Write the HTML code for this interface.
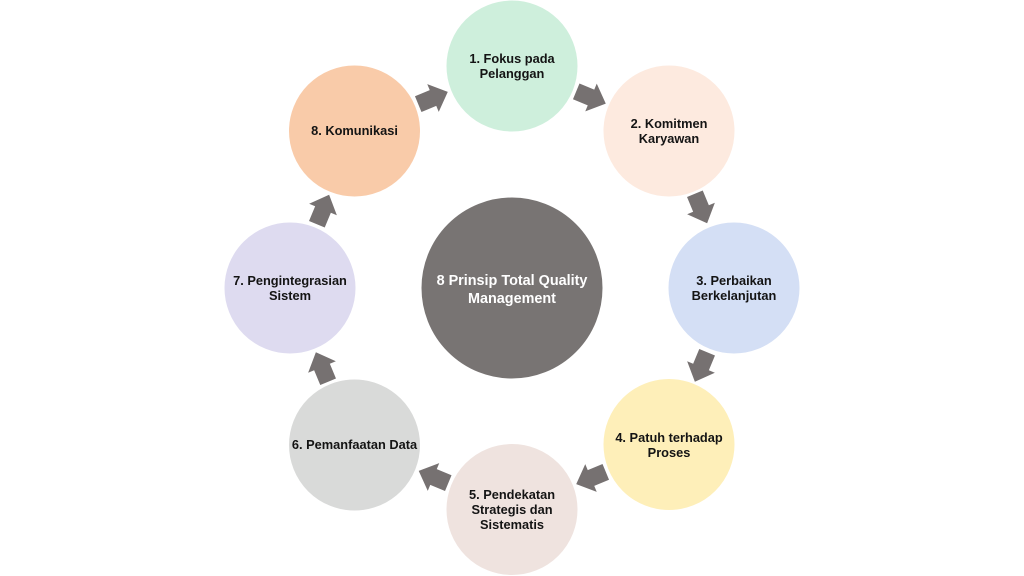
<!DOCTYPE html>
<html>
<head>
<meta charset="utf-8">
<style>
  html, body { margin:0; padding:0; background:#ffffff; }
  body { width:1024px; height:576px; overflow:hidden; }
  svg { display:block; }
  text { font-family: "Liberation Sans", Arial, sans-serif; font-weight:bold; }
</style>
</head>
<body>
<svg width="1024" height="576" viewBox="0 0 1024 576" xmlns="http://www.w3.org/2000/svg">
  <defs>
    <polygon id="arr" points="-16,-8.5 0,-8.5 0,-15 16,0 0,15 0,8.5 -16,8.5" fill="#767171"/>
  </defs>

  <!-- center -->
  <circle cx="512" cy="288" r="91" fill="#787473" stroke="#ffffff" stroke-width="1"/>
  <text x="512" y="285" text-anchor="middle" font-size="14.4" fill="#ffffff">8 Prinsip Total Quality</text>
  <text x="512" y="303" text-anchor="middle" font-size="14.4" fill="#ffffff">Management</text>

  <!-- circles -->
  <circle cx="512" cy="66" r="66" fill="#ceefdc" stroke="#ffffff" stroke-width="1"/>
  <circle cx="669" cy="131" r="66" fill="#fdeadf" stroke="#ffffff" stroke-width="1"/>
  <circle cx="734" cy="288" r="66" fill="#d4dff5" stroke="#ffffff" stroke-width="1"/>
  <circle cx="669" cy="444.5" r="66" fill="#feefb9" stroke="#ffffff" stroke-width="1"/>
  <circle cx="512" cy="509.5" r="66" fill="#efe3df" stroke="#ffffff" stroke-width="1"/>
  <circle cx="354.5" cy="445" r="66" fill="#d9dad9" stroke="#ffffff" stroke-width="1"/>
  <circle cx="290" cy="288" r="66" fill="#dedbf0" stroke="#ffffff" stroke-width="1"/>
  <circle cx="354.5" cy="131" r="66" fill="#f9cba9" stroke="#ffffff" stroke-width="1"/>

  <!-- labels -->
  <g font-size="12.8" fill="#141414" text-anchor="middle">
    <text x="512" y="63">1. Fokus pada</text>
    <text x="512" y="78">Pelanggan</text>

    <text x="669" y="128">2. Komitmen</text>
    <text x="669" y="143">Karyawan</text>

    <text x="734" y="285">3. Perbaikan</text>
    <text x="734" y="300">Berkelanjutan</text>

    <text x="669" y="442">4. Patuh terhadap</text>
    <text x="669" y="457">Proses</text>

    <text x="512" y="499">5. Pendekatan</text>
    <text x="512" y="514">Strategis dan</text>
    <text x="512" y="529">Sistematis</text>

    <text x="354.5" y="449">6. Pemanfaatan Data</text>

    <text x="290" y="285">7. Pengintegrasian</text>
    <text x="290" y="300">Sistem</text>

    <text x="354.5" y="135">8. Komunikasi</text>
  </g>

  <!-- arrows (clockwise) -->
  <use href="#arr" transform="translate(591,97.5) rotate(22.5)"/>
  <use href="#arr" transform="translate(701,208.5) rotate(67.5)"/>
  <use href="#arr" transform="translate(701,367) rotate(112.5)"/>
  <use href="#arr" transform="translate(591,478) rotate(157.5)"/>
  <use href="#arr" transform="translate(433.5,477) rotate(202.5)"/>
  <use href="#arr" transform="translate(322,367) rotate(247.5)"/>
  <use href="#arr" transform="translate(323,209.5) rotate(292.5)"/>
  <use href="#arr" transform="translate(433,98) rotate(337.5)"/>
</svg>
</body>
</html>
